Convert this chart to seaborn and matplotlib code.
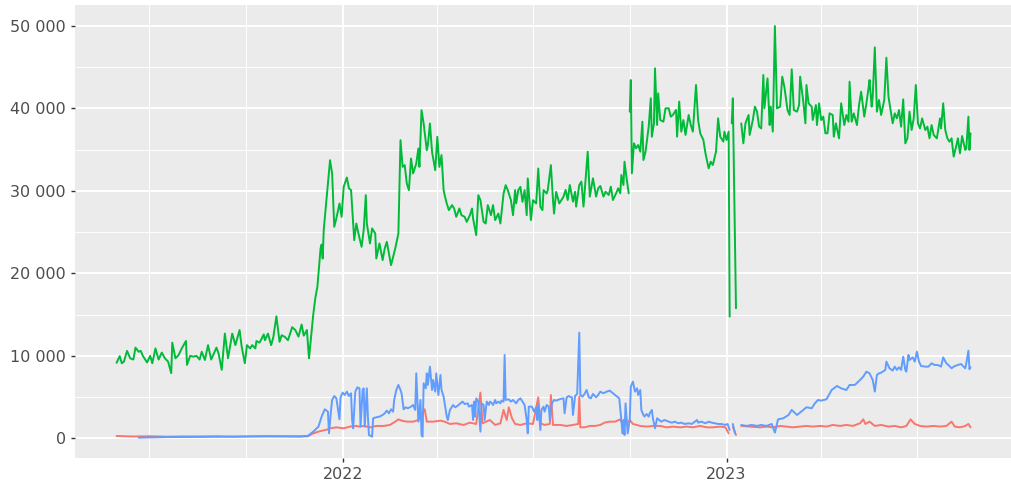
import matplotlib.pyplot as plt
import matplotlib.dates as mdates
import matplotlib.ticker as mticker
import pandas as pd
import seaborn as sns

# ggplot-like look: grey panel, white grid
sns.set_theme(style="darkgrid", rc={"axes.facecolor": "#EBEBEB", "grid.color": "white"})
plt.rcParams["font.family"] = ["DejaVu Sans"]

origin = pd.Timestamp("2022-01-01")

# days counted from 2022-01-01, None marks a break in the line
green_days = [-215, -212, -210, -208, -205, -202, -199, -197, -194, -192, -190, -186, -183, -181,
              -178, -175, -172, -169, -166, -163, -162, -159, -156, -153, -149, -148, -145, -142,
              -139, -136, -134, -131, -128, -125, -120, -118, -115, -112, -109, -105, -102, -98,
              -96, -93, -91, -88, -86, -83, -82, -79, -75, -74, -71, -68, -66, -63, -60, -58,
              -55, -52, -48, -45, -42, -39, -37, -34, -32, -28, -26, -24, -21, -20, -19, -18,
              -12, -10, -8, -6, -3, -1, 1, 4, 6, 8, 11, 13, 15, 18, 20, 22, 23, 26, 28, 31, 32,
              35, 38, 40, 42, 44, 46, 48, 50, 53, 55, 57, 59, 61, 63, 65, 67, 70, 72, 73, 75, 77,
              80, 81, 83, 85, 88, 90, 92, 94, 96, 97, 99, 101, 104, 106, 108, 111, 113, 116, 118,
              121, 123, 124, 127, 129, 131, 134, 136, 138, 141, 143, 145, 148, 150, 153, 155, 157,
              160, 162, 164, 165, 167, 169, 171, 173, 175, 176, 179, 181, 184, 186, 188, 190, 191,
              194, 195, 198, 200, 201, 203, 206, 210, 212, 214, 216, 219, 221, 222, 225, 227, 229,
              230, 233, 235, 238, 241, 243, 245, 248, 250, 253, 255, 257, 260, 262, 264, 265, 267,
              268, 270, 272, None, 273, 274, 275, 277, 279, 281, 283, 285, 286, 288, 291, 293, 294,
              296, 297, 299, 300, 302, 305, 307, 310, 312, 314, 317, 318, 320, 322, 324, 326, 329,
              331, 333, 336, 338, 340, 343, 345, 348, 350, 352, 355, 357, 359, 362, 363, 365, 367,
              368, None, 370, 371, 374, None, 379, 381, 383, 386, 387, 390, 392, 394, 396, 398,
              400, 401, 404, 406, 407, 409, 411, 413, 416, 418, 420, 423, 425, 427, 429, 432, 434,
              435, 438, 440, 441, 443, 446, 447, 450, 451, 453, 455, 457, 459, 461, 463, 466, 467,
              469, 472, 474, 477, 479, 481, 482, 484, 486, 489, 491, 493, 496, 498, 500, 501, 503,
              504, 506, 508, 510, 512, 515, 517, 519, 521, 523, 525, 527, 529, 531, 533, 535, 537,
              539, 541, 543, 545, 547, 549, 551, 554, 556, 558, 560, 562, 565, 568, 569, 571, 573,
              575, 577, 579, 581, 584, 585, 587, 589, 592, 593, 595, 596, 597]
green_vals = [9150, 9970, 9100, 9300, 10600, 9700, 9550, 11000, 10500, 10600, 10000, 9200, 10000,
              9100, 10900, 9550, 10400, 9700, 9300, 7900, 11600, 9700, 10100, 10900, 11800, 8900,
              10000, 9900, 10000, 9550, 10500, 9500, 11300, 9550, 11000, 10300, 8300, 12700, 9700,
              12700, 11300, 13130, 11100, 9100, 11300, 10900, 11300, 10900, 11800, 11600, 12600,
              11900, 12700, 11300, 12200, 14800, 11700, 12500, 12300, 11900, 13470, 13130, 12330,
              13800, 12450, 13130, 9700, 14950, 17000, 18400, 23040, 23500, 21800, 25260,
              33730, 32120, 25650, 26660, 28480, 26860, 30500, 31630, 30300, 30100, 24030, 26050,
              24840, 23220, 25250, 29490, 26050, 23630, 25450, 24840, 21810, 23630, 21610, 23020,
              23830, 22420, 21000, 22010, 23020, 24840, 36160, 32920, 33130, 30900, 30100, 33930,
              32120, 33330, 35150, 32920, 39790, 38180, 34940, 35550, 38180, 34740, 32520, 36560,
              32920, 34340, 30100, 29490, 28480, 27670, 28280, 27870, 26860, 27870, 27060, 26860,
              26250, 27060, 27870, 26660, 24640, 29490, 28880, 26250, 26050, 28280, 27060, 28280,
              26460, 27260, 26050, 29690, 30700, 30100, 28880, 27060, 30100, 28480, 30100, 30500,
              28680, 30100, 27060, 31510, 26460, 28880, 28480, 32720, 28070, 27670, 30100, 29690,
              30100, 33130, 28880, 27260, 29890, 28480, 29310, 30120, 28900, 30720, 28700, 29910,
              28100, 30720, 31130, 28100, 29710, 34760, 29310, 31530, 29310, 30320, 30600, 29310,
              29910, 29510, 30520, 28900, 29710, 30320, 29710, 31940, 30720, 33550, 31530, 29710,
              None, 39610, 43450, 32140, 35780, 35170, 35570, 34760, 38400, 33750, 34760, 37800,
              41230, 36580, 38200, 44870, 38000, 41840, 38600, 38400, 40020, 40020, 39010, 39210,
              39820, 36580, 40830, 37190, 38600, 36790, 39210, 38000, 37190, 42850, 38600, 36990,
              36180, 34560, 32740, 33550, 33150, 34760, 38810, 36580, 35980, 37190, 36180, 37190,
              14760, None, 38200, 41230, 15770, None, 38200, 35780, 38200, 39210, 36790, 38600,
              40220, 39610, 37800, 37590, 44060, 40020, 43650, 37990, 40220, 37190, 50000, 40020,
              40220, 43860, 42640, 39810, 39210, 44750, 39810, 39610, 40420, 43860, 40830, 38200,
              42850, 40630, 40220, 38600, 40420, 37990, 40620, 38600, 39010, 36990, 36990, 39410,
              39210, 36580, 38200, 36380, 40630, 37990, 39210, 38400, 43250, 38400, 39410, 37990,
              40420, 42040, 39010, 40630, 42440, 43450, 40220, 41430, 47410, 39610, 41030, 39210,
              41030, 46160, 41430, 39810, 38200, 39410, 38800, 39810, 37790, 41110, 35770, 36380,
              39610, 37390, 38800, 42850, 38200, 37590, 38800, 37390, 37790, 36380, 37990, 36780,
              36380, 38800, 37590, 40630, 37390, 36380, 35970, 36380, 34160, 35770, 36380, 34560,
              36660, 34970, 35170, 39010, 34970, 36990]

blue_days = [-194, -167, -136, -104, -72, -41, -33, -28, -23, -20, -17, -14, -13, -11, -10, -8, -6,
             -3, -2, 0, 2, 4, 6, 8, 9, 10, 12, 14, 16, 17, 19, 20, 21, 23, 24, 25, 28, 29, 32, 35,
             38, 40, 42, 44, 46, 48, 49, 51, 53, 55, 56, 58, 60, 62, 65, 67, 69, 70, 72, 74, 75,
             76, 77, 79, 80, 81, 83, 85, 86, 88, 89, 91, 93, 94, 96, 97, 99, 100, 102, 105, 107,
             109, 112, 114, 116, 119, 120, 123, 124, 125, 126, 127, 129, 131, 132, 134, 135, 137,
             139, 140, 142, 143, 145, 146, 148, 150, 151, 153, 154, 155, 158, 160, 162, 165, 167,
             169, 171, 173, 175, 176, 177, 180, 182, 184, 185, 186, 188, 189, 191, 192, 194, 196,
             197, 199, 201, 203, 207, 210, 211, 213, 215, 216, 218, 219, 221, 223, 225, 226, 228,
             230, 232, 234, 236, 238, 241, 243, 245, 248, 251, 254, 257, 261, 263, 265, 266, 267,
             268, 269, 271, 273, 274, 276, 278, 280, 281, 283, 284, 286, 287, 289, 291, 292, 294,
             295, 297, 299, 301, 303, 306, 310, 313, 316, 319, 322, 325, 329, 332, 335, 337, 338,
             341, 345, 348, 351, 354, 357, 360, 364, 366, 368, None, 371, 373, None, 379, 384, 389,
             394, 398, 403, 408, 411, 414, 419, 424, 427, 432, 436, 441, 446, 449, 452, 455, 460,
             465, 470, 474, 479, 482, 487, 492, 495, 498, 501, 504, 506, 508, 510, 512, 516, 517,
             520, 523, 525, 527, 529, 531, 533, 535, 536, 538, 539, 542, 544, 546, 548, 550, 554,
             557, 560, 563, 566, 569, 571, 574, 576, 579, 582, 585, 588, 592, 593, 595, 596, 597]
blue_vals = [80, 150, 180, 200, 260, 250, 300, 800, 1420, 2630, 3520, 3230, 610, 3440, 4650, 5130,
             4850, 2300, 4970, 5540, 5260, 5660, 5130, 5460, 2220, 1210, 5660, 6180, 6060, 1420,
             5860, 6060, 1420, 6060, 2630, 400, 200, 2430, 2550, 2630, 2830, 3030, 3360, 3030,
             3520, 3230, 4650, 5860, 6470, 5860, 5460, 3520, 3760, 3640, 3840, 4040, 3440, 7880,
             2020, 4650, 400, 200, 6670, 6060, 7880, 6470, 8690, 5860, 7080, 5660, 7880, 5250,
             7680, 5860, 5050, 4240, 2630, 2220, 3440, 4040, 3760, 3920, 4240, 4450, 4160, 4240,
             3840, 4040, 2220, 4450, 2630, 4850, 4450, 810, 4240, 4040, 2220, 4450, 4040, 4450,
             4240, 4040, 4650, 4240, 4450, 4240, 4570, 4450, 10110, 4650, 4730, 4450, 4650, 4240,
             4650, 4850, 4450, 4040, 2220, 610, 3840, 3840, 3230, 3760, 2220, 4040, 1010, 3440,
             3840, 3230, 4040, 3840, 2220, 4240, 4650, 4570, 4770, 4850, 3030, 4970, 5130, 5050,
             4970, 2830, 5130, 5380, 12810, 5260, 5050, 5380, 5860, 4970, 4850, 5380, 4970, 5260,
             5660, 5460, 5660, 5780, 5460, 5050, 4850, 2220, 610, 2220, 400, 4240, 610, 2220, 6270,
             6870, 5660, 6060, 5250, 5860, 3440, 2830, 2630, 2950, 2630, 3030, 3440, 2430, 1210,
             2430, 2220, 2020, 2220, 2020, 1900, 2020, 1820, 1900, 1740, 1820, 1740, 2020, 2220,
             1900, 2020, 1820, 2020, 1900, 1820, 1740, 1740, 1620, 1740, 1010, None, 1740, 610,
             None, 1620, 1500, 1620, 1500, 1620, 1500, 1740, 690, 2300, 2430, 2830, 3440, 2830,
             3230, 3760, 3640, 4240, 4650, 4570, 4730, 5860, 6350, 6060, 5860, 6470, 6470, 7080,
             7480, 8080, 7880, 7080, 5660, 7680, 7880, 7960, 8290, 9300, 8490, 8210, 8690, 8290,
             8610, 8290, 9900, 8290, 8080, 10110, 9500, 9820, 9300, 10510, 9300, 8770, 8690, 8690,
             9100, 8890, 8890, 8690, 9820, 9100, 8890, 8490, 8770, 8890, 9010, 8490, 9100, 10630,
             8370, 8610]

red_days = [-215, -199, -183, -167, -151, -136, -120, -104, -88, -72, -56, -41, -33, -28, -22, -15,
            -12, -6, 1, 7, 13, 16, 20, 26, 32, 39, 45, 50, 53, 56, 61, 67, 72, 78, 80, 86, 93, 97,
            102, 108, 115, 121, 127, 131, 133, 140, 145, 150, 153, 156, 158, 161, 164, 169, 175,
            181, 186, 188, 192, 197, 198, 200, 207, 213, 219, 224, 225, 226, 230, 235, 240, 245,
            249, 254, 259, 264, 265, 268, 273, 276, 283, 289, 295, 302, 308, 314, 321, 327, 333,
            340, 346, 352, 359, 364, 367, None, 371, 374, None, 379, 387, 397, 403, 409, 416, 422,
            428, 435, 441, 447, 454, 460, 466, 473, 479, 485, 492, 495, 497, 501, 506, 512, 519,
            525, 531, 536, 540, 544, 549, 555, 562, 568, 574, 579, 582, 587, 592, 595, 597]
red_vals = [280, 220, 250, 200, 230, 220, 250, 200, 230, 230, 220, 200, 250, 600, 850, 1050, 1210,
            1330, 1210, 1420, 1500, 1420, 1500, 1330, 1500, 1500, 1620, 2020, 2300, 2140, 2020,
            2020, 2220, 3520, 2020, 2020, 2140, 2020, 1740, 1820, 1620, 1900, 1740, 5540, 1820,
            2220, 1620, 1820, 3440, 2220, 3760, 2430, 1740, 1620, 1820, 1740, 4970, 1820, 1620,
            1740, 5250, 1620, 1620, 1500, 1620, 1740, 5050, 1330, 1330, 1500, 1500, 1620, 1900,
            2020, 2020, 2300, 2020, 1620, 2220, 1740, 1500, 1420, 1500, 1500, 1330, 1420, 1330,
            1420, 1330, 1500, 1330, 1330, 1420, 1330, 610, None, 1420, 400, None, 1500, 1420, 1330,
            1420, 1330, 1500, 1420, 1330, 1420, 1500, 1420, 1500, 1420, 1620, 1500, 1620, 1500,
            1820, 2300, 1740, 2020, 1500, 1620, 1420, 1500, 1330, 1500, 2300, 1740, 1500, 1420,
            1500, 1420, 1500, 2020, 1420, 1330, 1500, 1740, 1330]

colors = {"red": "#F8766D", "green": "#00BA38", "blue": "#619CFF"}


def build(name, days, vals):
    df = pd.DataFrame({"day": days, "value": vals}, dtype=float)
    # every gap starts a new segment of the line
    df["segment"] = df["value"].isna().cumsum()
    df = df.dropna()
    df["date"] = origin + pd.to_timedelta(df["day"], unit="D")
    df["series"] = name
    return df


data = pd.concat([build("red", red_days, red_vals),
                  build("green", green_days, green_vals),
                  build("blue", blue_days, blue_vals)], ignore_index=True)

fig = plt.figure(figsize=(10.11, 4.82), dpi=100)
ax = fig.add_axes([75 / 1011, 23.7 / 482, 936 / 1011, 453.3 / 482])

sns.lineplot(data=data, x="date", y="value", hue="series", units="segment",
             estimator=None, sort=False, palette=colors, hue_order=["red", "green", "blue"],
             legend=False, linewidth=1.4, ax=ax)

ax.set_xlim(origin - pd.Timedelta(days=254.5), origin + pd.Timedelta(days=635.5))
ax.set_ylim(-2425, 52550)

ax.xaxis.set_major_locator(mdates.YearLocator())
ax.xaxis.set_major_formatter(mdates.DateFormatter("%Y"))
ax.xaxis.set_minor_locator(mdates.MonthLocator(bymonth=[1, 4, 7, 10]))
ax.yaxis.set_major_locator(mticker.MultipleLocator(10000))
ax.yaxis.set_minor_locator(mticker.MultipleLocator(5000))
ax.yaxis.set_major_formatter(mticker.FuncFormatter(lambda v, p: f"{int(v):,}".replace(",", " ")))

ax.grid(which="major", color="white", linewidth=1.4)
ax.grid(which="minor", color="white", linewidth=0.7)
ax.tick_params(which="major", bottom=True, left=True, length=3, width=1, color="#333333",
               labelcolor="#4D4D4D", labelsize=11.5, pad=3.5)
ax.tick_params(which="minor", length=0)
for s in ax.spines.values():
    s.set_visible(False)
ax.set_xlabel("")
ax.set_ylabel("")

fig.savefig("out.png", dpi=100)
